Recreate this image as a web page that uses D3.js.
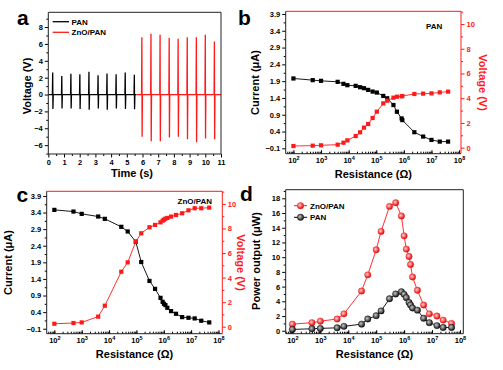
<!DOCTYPE html>
<html>
<head>
<meta charset="utf-8">
<script src="https://cdn.jsdelivr.net/npm/d3@7"></script>
<style>
  body { margin: 0; background: #fff; }
  svg { display: block; font-family: "Liberation Sans", Arial, sans-serif; font-weight: bold; }
</style>
</head>
<body>
<svg id="fig" width="503" height="370"></svg>
<script>
// ---- panel a : voltage spikes vs time ----
var panTimes = [0.28, 0.86, 1.44, 2.01, 2.59, 3.17, 3.74, 4.32, 4.90, 5.48];
var panPeaks = [2.6, 2.2, 2.45, 2.4, 2.7, 2.3, 2.5, 2.4, 2.6, 2.35];
var panMins  = [-1.7, -1.65, -1.65, -1.7, -1.8, -1.65, -1.8, -1.65, -1.7, -1.75];
var znoTimes = [5.96, 6.54, 7.12, 7.70, 8.27, 8.85, 9.43, 10.00, 10.58];
var znoPeaks = [6.8, 7.2, 7.1, 6.7, 6.6, 6.8, 6.8, 7.1, 6.3];
var znoMins  = [-5.0, -5.55, -5.55, -5.1, -5.0, -5.3, -5.65, -5.2, -5.3];

// ---- panel b : PAN current / voltage vs load resistance ----
var resB      = [100, 500, 1000, 4000, 6500, 9000, 18000, 26000, 36000, 51000, 74000, 105000,
                 180000, 250000, 420000, 560000, 830000, 880000, 2.4e6, 5e6, 1e7, 2e7, 4e7];
var currentB  = [1.98, 1.93, 1.91, 1.88, 1.82, 1.78, 1.76, 1.72, 1.69, 1.64, 1.59, 1.56,
                 1.46, 1.39, 1.19, 0.99, 0.79, 0.74, 0.38, 0.25, 0.15, 0.10, 0.10];
var voltageB  = [0.13, 0.16, 0.19, 0.24, 0.40, 0.59, 0.94, 1.24, 1.62, 1.91, 2.40, 2.91,
                 3.58, 3.80, 4.04, 4.12, 4.15, 4.18, 4.34, 4.37, 4.39, 4.47, 4.53];

// ---- panel c : ZnO/PAN current / voltage vs load resistance ----
var resC      = [100, 500, 1000, 4000, 7000, 28000, 48000, 95000, 150000, 300000, 480000, 760000,
                 910000, 1.02e6, 1.15e6, 1.35e6, 1.85e6, 2.8e6, 4.7e6, 8e6, 1.35e7, 2.35e7, 4.6e7];
var currentC  = [3.48, 3.43, 3.36, 3.28, 3.21, 2.97, 2.83, 2.52, 1.91, 1.34, 1.10, 0.83,
                 0.71, 0.65, 0.61, 0.53, 0.43, 0.35, 0.25, 0.23, 0.21, 0.14, 0.09];
var voltageC  = [0.24, 0.30, 0.35, 0.82, 1.71, 4.48, 5.24, 6.93, 7.61, 8.10, 8.29, 8.50,
                 8.64, 8.72, 8.80, 8.86, 8.97, 9.10, 9.24, 9.48, 9.65, 9.65, 9.70];

// ---- panel d : power output vs load resistance ----
var resD      = [100, 500, 1000, 4000, 7000, 30000, 50000, 100000, 150000, 300000, 500000, 800000,
                 1e6, 1.2e6, 1.5e6, 1.7e6, 2e6, 3e6, 5e6, 8e6, 1.5e7, 2.5e7, 5e7];
var powerZno  = [0.9, 1.1, 1.3, 1.6, 2.3, 5.4, 7.6, 11.0, 13.5, 16.9, 17.4, 15.6,
                 12.9, 11.1, 10.1, 9.0, 7.3, 5.5, 3.5, 2.3, 2.0, 1.45, 1.0];
var powerPan  = [0.18, 0.27, 0.32, 0.40, 0.60, 0.90, 1.60, 2.05, 2.70, 4.35, 5.0, 5.3,
                 4.95, 4.5, 3.85, 3.5, 3.1, 2.8, 1.7, 1.1, 0.7, 0.45, 0.45];

var RED = "#ff1a1a";
var svg = d3.select("#fig");

var defs = svg.append("defs");
function sphere(id, c0, c1) {
  var g = defs.append("radialGradient").attr("id", id)
              .attr("cx", "40%").attr("cy", "40%").attr("r", "60%");
  g.append("stop").attr("offset", "0%").attr("stop-color", c0);
  g.append("stop").attr("offset", "100%").attr("stop-color", c1);
}
sphere("ballRed", "#ffd0d0", "#e00000");
sphere("ballBlack", "#c8c8c8", "#111");

// helpers
function decadeLabel(sel) {
  sel.each(function(d) {
    var t = d3.select(this).text(null);
    t.append("tspan").text("10");
    t.append("tspan").attr("dy", "-3").attr("font-size", "5.5px").text(Math.round(Math.log10(d)));
  });
}

// log x axis, ticks pointing into the plot
function logAxis(g, x, y0) {
  var lo = x.domain()[0], hi = x.domain()[1];
  var minor = x.ticks().filter(function(v) { return v >= lo && v <= hi; });
  var major = [1e2, 1e3, 1e4, 1e5, 1e6, 1e7, 1e8];
  g.append("g").attr("transform", "translate(0," + y0 + ")")
   .call(d3.axisBottom(x).tickValues(minor).tickSize(-2).tickFormat(""))
   .call(function(a) { a.select(".domain").remove(); });
  var ax = g.append("g").attr("transform", "translate(0," + y0 + ")")
   .call(d3.axisBottom(x).tickValues(major).tickSize(-3.5).tickPadding(3.5));
  ax.select(".domain").remove();
  ax.selectAll("text").attr("font-size", "7.5px").attr("font-family", null)
    .call(decadeLabel);
}

function linAxis(g, y, x0, majors, minors, side, color, fmt) {
  var gen = side === "left" ? d3.axisLeft : d3.axisRight;
  g.append("g").attr("transform", "translate(" + x0 + ",0)")
   .call(gen(y).tickValues(minors).tickSize(2).tickFormat(""))
   .call(function(a) { a.select(".domain").remove(); a.selectAll("line").attr("stroke", color); });
  var ax = g.append("g").attr("transform", "translate(" + x0 + ",0)")
   .call(gen(y).tickValues(majors).tickSize(3.5).tickPadding(2).tickFormat(fmt));
  ax.select(".domain").remove();
  ax.selectAll("line").attr("stroke", color);
  ax.selectAll("text").attr("font-size", "7.5px").attr("font-family", null).attr("fill", color);
}

function frame(g, x0, x1, y0, y1, topColor, rightColor) {
  g.append("line").attr("x1", x0).attr("x2", x1).attr("y1", y1).attr("y2", y1).attr("stroke", "#222").attr("stroke-width", 1);
  g.append("line").attr("x1", x0).attr("x2", x0).attr("y1", y0).attr("y2", y1).attr("stroke", "#222").attr("stroke-width", 1);
  g.append("line").attr("x1", x0).attr("x2", x1).attr("y1", y0).attr("y2", y0).attr("stroke", topColor).attr("stroke-width", 1);
  g.append("line").attr("x1", x1).attr("x2", x1).attr("y1", y0).attr("y2", y1).attr("stroke", rightColor).attr("stroke-width", 1);
}

// x, y = centre of the glyphs for rotated titles, baseline for flat ones
function title(g, txt, x, y, rot, color) {
  g.append("text").attr("transform", "translate(" + x + "," + y + ")" + (rot ? " rotate(" + rot + ")" : ""))
   .attr("dy", rot ? "0.36em" : null)
   .attr("text-anchor", "middle").attr("font-size", "11px").attr("fill", color || "#000").text(txt);
}

function letter(txt, x, y) {
  svg.append("text").attr("x", x).attr("y", y).attr("font-size", "21px").text(txt);
}

var odd = function(a, b, s) { return d3.range(a, b + 1e-9, s); };

// ================= panel a =================
(function() {
  var g = svg.append("g");
  var x = d3.scaleLinear().domain([0, 11]).range([48.3, 221]);
  var y = d3.scaleLinear().domain([-7.05, 9.75]).range([154, 12.3]);

  g.append("g").attr("transform", "translate(0,154)")
   .call(d3.axisBottom(x).tickValues(odd(0.5, 10.5, 1)).tickSize(2).tickFormat(""))
   .call(function(a) { a.select(".domain").remove(); });
  var ax = g.append("g").attr("transform", "translate(0,154)")
   .call(d3.axisBottom(x).tickValues(d3.range(0, 12)).tickSize(3.5).tickPadding(2.5));
  ax.select(".domain").remove();
  ax.selectAll("text").attr("font-size", "7.5px").attr("font-family", null);
  linAxis(g, y, 48.3, d3.range(-6, 9, 2), odd(-7, 9, 2), "left", "#000", d3.format("d"));

  function spikes(times, peaks, mins, t0, t1) {
    var pts = [[t0, 0]];
    times.forEach(function(t, i) {
      pts.push([t - 0.02, 0], [t, peaks[i]], [t + 0.015, mins[i]], [t + 0.035, 0]);
    });
    pts.push([t1, 0]);
    return pts;
  }
  var line = d3.line().x(function(d) { return x(d[0]); }).y(function(d) { return y(d[1]); });
  g.append("path").attr("d", line(spikes(panTimes, panPeaks, panMins, 0, 5.62)))
   .attr("fill", "none").attr("stroke", "#000").attr("stroke-width", 1.3);
  g.append("path").attr("d", line(spikes(znoTimes, znoPeaks, znoMins, 5.62, 11)))
   .attr("fill", "none").attr("stroke", RED).attr("stroke-width", 1.3);

  frame(g, 48.3, 221, 12.3, 154, "#222", "#222");
  title(g, "Voltage (V)", 27, 86, -90);
  title(g, "Time (s)", 132, 177);

  g.append("line").attr("x1", 52.7).attr("x2", 69).attr("y1", 21.7).attr("y2", 21.7).attr("stroke", "#000").attr("stroke-width", 1.3);
  g.append("text").attr("x", 71.5).attr("y", 24.5).attr("font-size", "8px").text("PAN");
  g.append("line").attr("x1", 52.7).attr("x2", 69).attr("y1", 32.3).attr("y2", 32.3).attr("stroke", RED).attr("stroke-width", 1.3);
  g.append("text").attr("x", 71.5).attr("y", 35.1).attr("font-size", "8px").text("ZnO/PAN");
  letter("a", 17, 24.5);
})();

// ========== panels b and c (dual axis) ==========
function dualPanel(box, res, cur, volt, label, labelX, labelY, titleXs) {
  var g = svg.append("g");
  var x = d3.scaleLog().domain(box.xd).range([box.x0, box.x1]);
  var yl = d3.scaleLinear().domain(box.yl).range([box.y1, box.y0]);
  var yr = d3.scaleLinear().domain(box.yr).range([box.y1, box.y0]);

  logAxis(g, x, box.y1);
  linAxis(g, yl, box.x0, odd(-0.1, 3.9, 0.5), odd(0.15, 3.65, 0.5), "left", "#000", d3.format(".1f"));
  linAxis(g, yr, box.x1, d3.range(0, 11, 2), odd(1, 11, 2), "right", RED, d3.format("d"));

  var lc = d3.line().x(function(d, i) { return x(res[i]); }).y(function(d) { return yl(d); });
  var lv = d3.line().x(function(d, i) { return x(res[i]); }).y(function(d) { return yr(d); });
  g.append("path").attr("d", lc(cur)).attr("fill", "none").attr("stroke", "#000").attr("stroke-width", 0.9);
  g.append("path").attr("d", lv(volt)).attr("fill", "none").attr("stroke", RED).attr("stroke-width", 0.9);
  g.selectAll(".sc").data(cur).enter().append("rect")
   .attr("x", function(d, i) { return x(res[i]) - 2.1; }).attr("y", function(d) { return yl(d) - 2.1; })
   .attr("width", 4.2).attr("height", 4.2).attr("fill", "#000");
  g.selectAll(".sv").data(volt).enter().append("rect")
   .attr("x", function(d, i) { return x(res[i]) - 2.1; }).attr("y", function(d) { return yr(d) - 2.1; })
   .attr("width", 4.2).attr("height", 4.2).attr("fill", RED);

  frame(g, box.x0, box.x1, box.y0, box.y1, RED, RED);
  title(g, "Current (\u03bcA)", titleXs[0], (box.y0 + box.y1) / 2, -90);
  title(g, "Voltage (V)", titleXs[1], (box.y0 + box.y1) / 2, 90, RED);
  title(g, "Resistance (\u03a9)", (box.x0 + box.x1) / 2, box.y1 + 24);
  g.append("text").attr("x", labelX).attr("y", labelY).attr("font-size", "8px").text(label);
}

dualPanel({x0: 285.7, x1: 461, y0: 11.3, y1: 153.7, xd: [Math.pow(10, 1.72), Math.pow(10, 8.07)],
           yl: [-0.26, 3.98], yr: [-0.49, 11.03]},
          resB, currentB, voltageB, "PAN", 426, 29, [255.5, 483]);
letter("b", 238, 25);

dualPanel({x0: 46.7, x1: 222.3, y0: 191.3, y1: 333.7, xd: [Math.pow(10, 1.72), Math.pow(10, 8.14)],
           yl: [-0.25, 4.04], yr: [-0.57, 11.03]},
          resC, currentC, voltageC, "ZnO/PAN", 177.5, 203.5, [8, 241]);
letter("c", 16.5, 202);

// ================= panel d =================
(function() {
  var g = svg.append("g");
  var x = d3.scaleLog().domain([Math.pow(10, 1.76), Math.pow(10, 8.12)]).range([285.7, 463.3]);
  var y = d3.scaleLinear().domain([-0.4, 19.17]).range([333.7, 189.7]);

  logAxis(g, x, 333.7);
  linAxis(g, y, 285.7, d3.range(0, 19, 2), odd(1, 19, 2), "left", "#000", d3.format("d"));

  var series = [[powerZno, RED, "url(#ballRed)"], [powerPan, "#000", "url(#ballBlack)"]];
  series.forEach(function(s) {
    var l = d3.line().x(function(d, i) { return x(resD[i]); }).y(function(d) { return y(d); });
    g.append("path").attr("d", l(s[0])).attr("fill", "none").attr("stroke", s[1]).attr("stroke-width", 0.9);
  });
  series.forEach(function(s) {
    g.selectAll(null).data(s[0]).enter().append("circle")
     .attr("cx", function(d, i) { return x(resD[i]); }).attr("cy", function(d) { return y(d); })
     .attr("r", 3.2).attr("fill", s[2]).attr("stroke", s[1]).attr("stroke-width", 0.4);
  });

  frame(g, 285.7, 463.3, 189.7, 333.7, "#222", "#222");
  title(g, "Power output (\u03bcW)", 256, 261, -90);
  title(g, "Resistance (\u03a9)", 374.5, 357.5);

  var leg = [["ZnO/PAN", RED, "url(#ballRed)", 205.7], ["PAN", "#000", "url(#ballBlack)", 217.3]];
  leg.forEach(function(l) {
    g.append("line").attr("x1", 294).attr("x2", 307).attr("y1", l[3]).attr("y2", l[3]).attr("stroke", l[1]).attr("stroke-width", 1);
    g.append("circle").attr("cx", 300.5).attr("cy", l[3]).attr("r", 3.2).attr("fill", l[2]).attr("stroke", l[1]).attr("stroke-width", 0.4);
    g.append("text").attr("x", 310).attr("y", l[3] + 3).attr("font-size", "8px").text(l[0]);
  });
  letter("d", 240, 201);
})();
</script>
</body>
</html>
